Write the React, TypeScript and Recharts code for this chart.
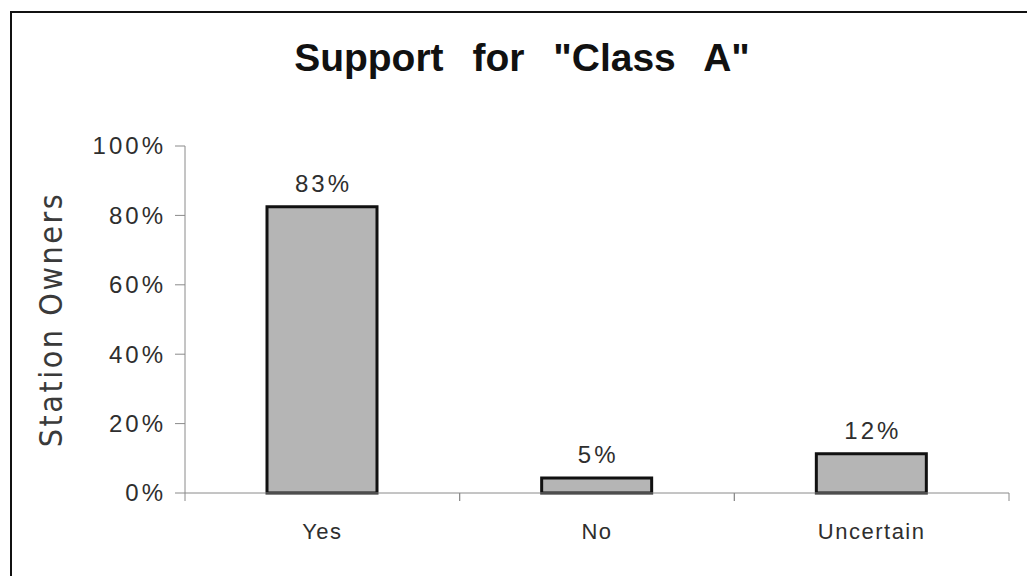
import React from "react";
import { BarChart, Bar, XAxis, YAxis, LabelList } from "recharts";

const categories = ["Yes", "No", "Uncertain"];
const values = [82.5, 4.3, 11.3];
const valueLabels = ["83%", "5%", "12%"];
const yTicks = [0, 20, 40, 60, 80, 100];

const data = categories.map((c, i) => ({ cat: c, value: values[i], label: valueLabels[i] }));

const AXIS = "#8a8a8a";
const TEXT = "#2e2e2e";
const FONT = "'Liberation Sans', Arial, Helvetica, sans-serif";

const YTick = (props: any) => {
  const { x, y, payload } = props;
  return (
    <text x={x} y={y} dy="0.35em" textAnchor="end" fill={TEXT} fontFamily={FONT} fontSize={24} letterSpacing={3}>
      {payload.value + "%"}
    </text>
  );
};

const XTick = (props: any) => {
  const { x, y, payload } = props;
  const off = payload.offset || 0;
  return (
    <g>
      <line x1={x - off} x2={x - off} y1={y} y2={y + 8} stroke={AXIS} strokeWidth={1} />
      <line x1={x + off} x2={x + off} y1={y} y2={y + 8} stroke={AXIS} strokeWidth={1} />
      <text x={x} y={y + 46} textAnchor="middle" fill={TEXT} fontFamily={FONT} fontSize={22} letterSpacing={1.5}>
        {payload.value}
      </text>
    </g>
  );
};

const BarLabel = (props: any) => {
  const { x, y, width, index } = props;
  return (
    <text x={x + width / 2 + 1.5} y={y - 15} textAnchor="middle" fill={TEXT} fontFamily={FONT} fontSize={24} letterSpacing={3}>
      {valueLabels[index]}
    </text>
  );
};

const YLabel = (props: any) => {
  const { viewBox } = props;
  const cx = viewBox.x + 16;
  const cy = viewBox.y + viewBox.height / 2;
  return (
    <text
      x={cx}
      y={cy}
      transform={`rotate(-90, ${cx}, ${cy})`}
      textAnchor="middle"
      dominantBaseline="central"
      fill="#3a3a3a"
      fontFamily="'DejaVu Sans Condensed', 'DejaVu Sans', sans-serif"
      fontSize={32}
      letterSpacing={2.5}
    >
      Station Owners
    </text>
  );
};

export default function App() {
  return (
    <div style={{ position: "relative", width: 1027, height: 576, background: "#fff", overflow: "hidden" }}>
      <style>{`html,body{margin:0;padding:0;overflow:hidden;background:#fff}`}</style>
      <div
        style={{
          position: "absolute",
          left: 10,
          top: 11,
          width: 1017,
          height: 565,
          borderTop: "2.5px solid #111",
          borderLeft: "2.5px solid #111",
          boxSizing: "border-box",
        }}
      />
      <div
        style={{
          position: "absolute",
          left: 0,
          top: 36,
          width: 1044,
          textAlign: "center",
          fontFamily: FONT,
          fontWeight: "bold",
          fontSize: 39,
          wordSpacing: 18,
          color: "#111",
          lineHeight: "44px",
        }}
      >
        Support for "Class A"
      </div>
      <div style={{ position: "absolute", left: 0, top: 0 }}>
        <BarChart width={1027} height={576} data={data} margin={{ top: 146, right: 18, bottom: 23, left: 35 }}>
          <XAxis
            dataKey="cat"
            height={60}
            axisLine={{ stroke: AXIS, strokeWidth: 1 }}
            tickLine={false}
            tickSize={0}
            tickMargin={0}
            tick={<XTick />}
            interval={0}
          />
          <XAxis xAxisId="top" dataKey="cat" orientation="top" height={0} tick={false} tickLine={false} axisLine={{ stroke: "#a8a8a8", strokeWidth: 1.5 }} />
          <YAxis
            width={150}
            domain={[0, 100]}
            ticks={yTicks}
            interval={0}
            tickSize={10}
            tickMargin={9}
            axisLine={{ stroke: AXIS, strokeWidth: 1 }}
            tickLine={{ stroke: AXIS, strokeWidth: 1 }}
            tick={<YTick />}
            label={<YLabel />}
          />
          <YAxis yAxisId="right" orientation="right" width={0} domain={[0, 100]} tick={false} tickLine={false} axisLine={{ stroke: "#b0b0b0", strokeWidth: 1 }} />
          <Bar dataKey="value" fill="#b5b5b5" stroke="#111" strokeWidth={3} barSize={110} isAnimationActive={false}>
            <LabelList dataKey="label" content={<BarLabel />} />
          </Bar>
        </BarChart>
      </div>
    </div>
  );
}
